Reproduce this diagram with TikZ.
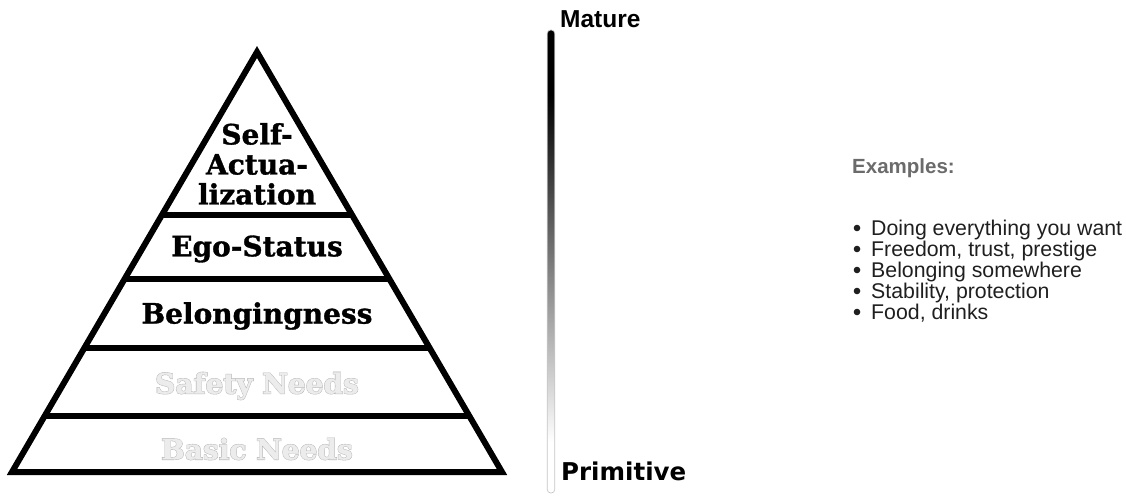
\documentclass[tikz,border=0pt]{standalone}
\usepackage{fontspec}
\usetikzlibrary{calc}
\setmainfont{Liberation Sans}
\newfontfamily\pyrfont{DejaVu Serif}[UprightFont=* Bold, FakeBold=1.2]
\newfontfamily\pyrthick{DejaVu Serif}[UprightFont=* Bold, FakeBold=4]
\newfontfamily\labelsans{Liberation Sans}
\newfontfamily\heavysans{DejaVu Sans}

% dark at the top, fading to white at the bottom
% (a shaded path spans the 25bp--75bp part of the shading)
\pgfdeclareverticalshading{bargrad}{100bp}{%
  color(0bp)=(white); color(30.5bp)=(white);
  color(68bp)=(black); color(100bp)=(black)}

\tikzset{
  tier/.style={inner sep=0pt, align=center,
    font=\pyrfont\fontsize{28}{30}\selectfont},
  tierrim/.style={inner sep=0pt, align=center, text=gray!65,
    font=\pyrthick\fontsize{28}{30}\selectfont},
  tierdim/.style={inner sep=0pt, align=center, text=gray!15,
    font=\pyrfont\fontsize{28}{30}\selectfont},
  rule/.style={line width=6pt},
  scale label/.style={inner sep=0pt, anchor=base west},
  example/.style={inner sep=0pt, anchor=base west, text=black!88,
    text height=15pt, text depth=4pt,
    font=\labelsans\fontsize{21.3}{21}\selectfont},
  listdot/.style={circle, fill=black!88, minimum size=6.6pt, inner sep=0pt},
}

\begin{document}
\begin{tikzpicture}[x=1pt, y=-1pt, line join=miter]
\useasboundingbox (0,0) rectangle (1126,495);

% pyramid outline and tier rules
\coordinate (A) at (257,52);
\coordinate (BL) at (12,472);
\coordinate (BR) at (502,472);
\draw[rule] (A) -- (BL) -- (BR) -- cycle;
\foreach \y in {215,279,348,416} {
  \draw[rule] ($(A)!{(\y-52)/420}!(BL)$) -- ($(A)!{(\y-52)/420}!(BR)$);
}

% tier labels
\node[tier] (self) at (257,164) {Self-\\Actua-\\lization};
\node[tier] (ego) at (257,249) {Ego-Status};
\node[tier] (belong) at (257,316) {Belongingness};
\node[tierrim] (safetyrim) at (257,386) {Safety Needs};
\node[tierdim] (safety) at (257,386) {Safety Needs};
\node[tierrim] (basicrim) at (257,449) {Basic Needs};
\node[tierdim] (basic) at (257,449) {Basic Needs};

% maturity scale
\node[draw=gray!45, line width=0.7pt, shading=bargrad, rounded corners=3.5pt,
      minimum width=7.5pt, minimum height=463pt, inner sep=0pt] (bar) at (551,261.5) {};
\node[scale label,
      font=\labelsans\bfseries\fontsize{24.5}{26}\selectfont] (mature) at (560,28) {Mature};
\node[scale label,
      font=\heavysans\bfseries\fontsize{24.5}{28}\selectfont] (primitive) at (561,480) {Primitive};

% examples
\node[inner sep=0pt, anchor=base west, text=black!58,
      font=\labelsans\bfseries\fontsize{20.5}{22}\selectfont] (examples) at (852,173) {Examples:};
\foreach \i/\b/\t in {1/235/Doing everything you want,
                      2/256/{Freedom, trust, prestige},
                      3/277/Belonging somewhere,
                      4/298/{Stability, protection},
                      5/319/{Food, drinks}} {
  \node[listdot] (dot\i) at (857,\b-7) {};
  \node[example] (ex\i) at (871,\b) {\t};
}
\end{tikzpicture}
\end{document}
